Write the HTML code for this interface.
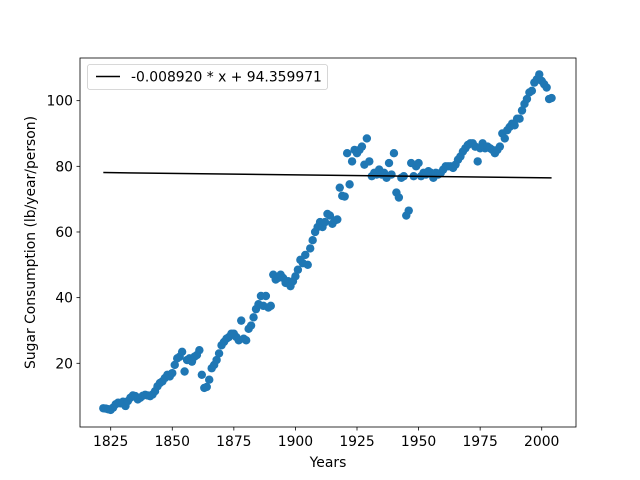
<!DOCTYPE html>
<html><head><meta charset="utf-8"><style>
html,body{margin:0;padding:0;background:#fff;}
svg{display:block;font-family:"DejaVu Sans","Liberation Sans",sans-serif;}
</style></head><body>
<svg id="chart" width="640" height="480" viewBox="0 0 640 480">
<rect x="0" y="0" width="640" height="480" fill="#fff"/>
<g id="marks"></g>
<g id="axes"></g>
</svg>
<script>
const years = [];
for (let y = 1822; y <= 2004; y++) years.push(y);
const consumption = [
6.3,6.2,6.0,5.8,6.5,7.5,8.0,7.8,8.3,7.0,
8.5,9.5,10.2,10.0,9.0,9.5,10.1,10.4,10.2,10.0,
10.5,11.5,13.0,14.0,14.5,15.5,16.5,16.0,17.0,19.5,
21.5,22.0,23.5,17.5,21.0,21.5,20.5,22.0,22.5,24.0,
16.5,12.5,12.8,15.0,18.5,19.5,21.0,23.0,25.5,26.5,
27.5,28.0,29.0,29.0,28.0,27.0,33.0,27.5,27.0,30.5,
31.5,34.0,36.5,38.0,40.5,37.5,40.5,37.0,37.5,47.0,
45.5,46.0,47.0,46.0,44.5,45.0,43.5,45.0,46.5,48.5,
51.5,50.5,53.0,50.0,55.0,57.5,60.0,61.5,63.0,61.5,
63.0,65.5,65.0,62.5,63.5,63.8,73.5,71.0,70.8,84.0,
74.5,81.5,85.0,84.0,85.0,86.0,80.5,88.5,81.5,77.0,
78.0,77.5,79.0,77.5,78.0,76.5,81.0,77.5,84.0,72.0,
70.5,76.5,77.0,65.0,66.5,81.0,77.0,80.0,81.0,77.0,
78.0,77.5,78.5,78.0,76.5,78.0,77.5,78.0,79.0,80.0,
80.0,80.0,79.5,80.5,82.0,83.0,84.5,85.5,86.5,87.0,
87.0,86.0,81.5,85.5,87.0,85.5,86.0,85.5,85.0,84.0,
85.0,86.0,90.0,88.5,91.0,92.0,93.0,92.5,94.5,94.5,
97.0,99.0,100.5,102.5,103.0,105.5,106.5,108.0,106.0,105.0,
104.0,100.5,100.8];
const fitSlope = -0.008920;
const fitIntercept = 94.359971;
const xTicks = [1825,1850,1875,1900,1925,1950,1975,2000];
const yTicks = [20,40,60,80,100];

const NS = "http://www.w3.org/2000/svg";
const L=80,R=576,T=58,B=427;
const FS=13.9;
function xs(v){return 110.7+(v-1825)*2.463;}
function ys(v){return 363.3-(v-20)*3.283;}
function mk(tag,attrs,parent){const e=document.createElementNS(NS,tag);for(const k in attrs)e.setAttribute(k,attrs[k]);parent.appendChild(e);return e;}
const marks=document.getElementById('marks');
const axes=document.getElementById('axes');

const pts=mk('g',{},marks);


years.forEach((yr,i)=>{
  const c=mk('circle',{cx:xs(yr),cy:ys(consumption[i]),r:4.2,fill:'#1f77b4'},pts);
  
  
});
const y0=years[0], y1=years[years.length-1];
const fit=mk('line',{x1:xs(y0),y1:ys(fitSlope*y0+fitIntercept),x2:xs(y1),y2:ys(fitSlope*y1+fitIntercept),stroke:'#000','stroke-width':1.5},marks);



const frame=mk('rect',{x:L,y:T,width:R-L,height:B-T,fill:'none',stroke:'#000','stroke-width':0.8},axes);


xTicks.forEach(t=>{
  const x=xs(t);
  mk('line',{x1:x,y1:B,x2:x,y2:B+3.5,stroke:'#000','stroke-width':0.8},axes);
  const tx=mk('text',{x:x,y:B+19,'text-anchor':'middle','font-size':FS,fill:'#000'},axes);
  tx.textContent=t;
  
  
});
yTicks.forEach(t=>{
  const y=ys(t);
  mk('line',{x1:L,y1:y,x2:L-3.5,y2:y,stroke:'#000','stroke-width':0.8},axes);
  const tx=mk('text',{x:L-7,y:y+5,'text-anchor':'end','font-size':FS,fill:'#000'},axes);
  tx.textContent=t;
  
  
});
const xt=mk('text',{x:(L+R)/2,y:467,'text-anchor':'middle','font-size':FS,fill:'#000'},axes);
xt.textContent='Years';


const yt=mk('text',{x:35,y:(T+B)/2,'text-anchor':'middle','font-size':FS,fill:'#000',transform:'rotate(-90 35 '+((T+B)/2)+')'},axes);
yt.textContent='Sugar Consumption (lb/year/person)';



const lg=mk('g',{},axes);


mk('rect',{x:87.5,y:64.5,width:240,height:25,rx:2.5,fill:'#fff','fill-opacity':0.8,stroke:'#ccc','stroke-width':0.8},lg);
mk('line',{x1:96,y1:76.5,x2:120,y2:76.5,stroke:'#000','stroke-width':1.5},lg);
const lt=mk('text',{x:131,y:81.5,'font-size':FS,fill:'#000'},lg);
lt.textContent='-0.008920 * x + 94.359971';


</script>
</body></html>
